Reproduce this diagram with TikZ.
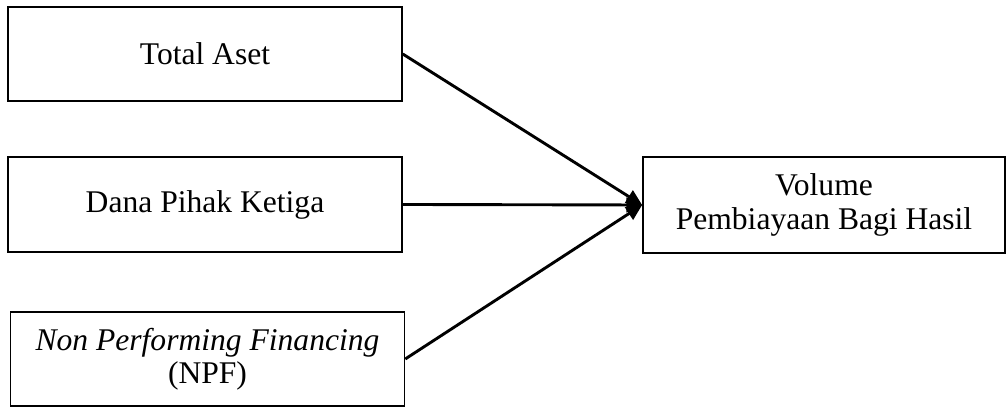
\documentclass[tikz,border=0pt]{standalone}
\usepackage{fontspec}
\setmainfont{Liberation Serif}
\usetikzlibrary{arrows.meta}

\begin{document}
\begin{tikzpicture}[x=0.38pt,y=-0.38pt,>={Triangle[length=6pt,width=5.5pt]},
  font=\fontsize{12}{12.6}\selectfont,
  var/.style={draw,line width=0.6pt,align=center,inner sep=0pt,minimum width=149.7pt,minimum height=35.9pt},
  link/.style={->,line width=1.1pt}]
\useasboundingbox (0,0) rectangle (1006,407);
\node[var] (aset) at (205,54) {Total Aset};
\node[var] (dpk) at (205,204.5) {Dana Pihak Ketiga};
\node[var] (npf) at (207.5,359) {\textit{Non Performing Financing}\\(NPF)};
\node[var,minimum width=137.6pt,minimum height=36.5pt] (vol) at (824,205) {Volume\\Pembiayaan Bagi Hasil};
\draw[link] (aset.east) -- (vol.west);
\draw[link] (dpk.east) -- (vol.west);
\draw[link] (npf.east) -- (vol.west);
\end{tikzpicture}
\end{document}
